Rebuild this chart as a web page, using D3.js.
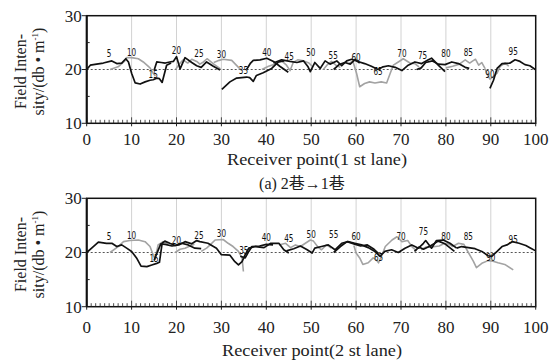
<!DOCTYPE html>
<html><head><meta charset="utf-8">
<script src="https://cdn.jsdelivr.net/npm/d3@7"></script>
<style>
body{margin:0;background:#fff}svg{display:block}
.serif{font-family:"Liberation Serif","DejaVu Serif","Times New Roman",serif}
.cap{font-family:"Liberation Serif","DejaVu Serif","Noto Sans CJK SC",serif}
.narrow{font-family:"Liberation Sans Narrow","Arial Narrow","DejaVu Sans Condensed","Liberation Sans",sans-serif}
</style>
</head><body>
<svg id="c" width="550" height="361"></svg>
<script>
// ---------- data ----------
const xTicks = [0,10,20,30,40,50,60,70,80,90,100];
const yTicks = [10,20,30];
const stationLabels = ["5","10","15","20","25","30","35","40","45","50","55","60","65","70","75","80","85","90","95"];
const lane1LabelPos = [[5,23.0],[10,23.3],[14.8,19.1],[20,23.6],[25,23.0],[30,22.9],[34.9,19.9],[40.1,23.2],[45.1,22.5],[49.9,23.2],[54.9,22.6],[60,22.2],[64.9,19.7],[70.2,23.1],[74.8,22.6],[80,23.1],[85,23.2],[89.8,19.2],[95,23.4]];
const lane2LabelPos = [[5,23.1],[10,23.2],[15,19.0],[20,22.3],[25,23.2],[30,23.5],[35,20.5],[40,22.8],[45,22.7],[50,23.3],[55,23.3],[60,23.1],[65,19.1],[70,23.1],[75,23.9],[80,23.1],[85,23.0],[90,19.1],[95,22.5]];

const lane1Black = [
 [[0,20],[0.8,20.8],[2.2,21.0],[3.7,21.2],[5.6,21.6],[6.7,21.1],[7.8,21.2],[8.7,22.0],[9.3,21.4],[10,19.3],[10.8,17.5],[11.9,17.3],[13,17.7],[14.1,18.0],[14.8,18.1],[15.6,18.4],[16.2,18.3],[16.8,17.6],[17.8,20.8],[18.8,21.2]],
 [[15,19.8],[15.6,21.4],[16.6,21.3],[17.5,21.2],[18.5,21.4],[19.3,21.5],[20,22.4],[20.8,20.1],[21.9,22.2],[23.4,21.3],[24.5,20.7],[25.5,20.4],[26.7,21.4],[28.2,20.6],[29.7,19.9]],
 [[30.1,16.3],[31.9,17.7],[33.4,18.4],[35.6,18.6],[36.3,18.5],[37.1,17.8],[37.8,18.9],[39.3,19.4],[41.2,20.2],[42.7,21.4],[44,21.6]],
 [[35.6,20],[36.5,21.2],[37.1,21.7],[38.6,21.8],[40.1,22.1],[41.6,21.5],[43,20.6],[44.9,19.5]],
 [[41.6,21.2],[43.4,21.8],[45.3,21.5],[46.8,21.3],[48.3,21.6],[49.3,20.5],[49.8,19.6],[50.8,21.3],[52,20.2],[53.1,21.6],[54.2,21],[55.7,21.6],[56.8,20.7],[57.9,21.6],[59,21.9],[60.4,21.5],[61.9,21.1],[63.4,20.6],[64.9,20]],
 [[55,20],[56.2,20.9],[57.5,21.3],[58.7,21.0],[59.8,21.9],[60.8,21.2]],
 [[64.9,20],[66,20.5],[67.2,20.7],[68.7,20.4],[70.2,19.8],[71.6,20.8],[73.1,21.4],[74.6,21.1],[76.1,21.8],[76.8,22.1],[78.3,20.8],[79.8,19.6]],
 [[73.5,20],[74.5,20.3],[75.5,21.3],[77,21.6],[78.3,21.0],[79.8,20.9],[81.3,21.4],[82.8,21.1],[84.3,20.4],[85.2,20.2]],
 [[89.8,16.5],[90.6,18],[91.4,20.2],[92.5,21.1],[94.3,21.2],[95.4,21.8],[96.5,21.5],[97.6,20.9],[98.7,20.7],[99.9,20]]
];
const lane1Gray = [
 [[5.2,20],[7,20.5],[8.5,21.6],[8.9,22.2],[10,22.2],[11.5,22.0],[12.6,21.4],[14.1,20.3],[14.8,19.3],[15.3,18.8]],
 [[19.8,20],[20.6,21],[21.5,21.8],[22.5,21.2],[23.4,21.9],[24.5,21.5],[25.2,21.0],[26,21.4],[26.8,22],[28.3,21],[29.8,20.1]],
 [[28.3,21.3],[29.5,21.7],[30.4,21.9],[32.3,21.7],[33.8,20.4],[34.6,19.8]],
 [[39,20],[40.5,20.6],[42,21],[43.4,21.6],[44.5,20.8],[45.3,19.8],[46,21.3],[47,21.8],[48.3,21.6],[49.5,21.2],[50.2,20.6]],
 [[52.7,20],[53.5,20.8],[54.5,21.5],[55.5,20.8],[56.5,20.4]],
 [[58.5,21.2],[59.3,21.5],[60.1,19.3],[60.8,16.8],[61.9,17.4],[63,17.7],[64.2,17.5],[65.6,17.7],[66.8,17.5],[67.6,19.3],[68.3,20.8],[69.4,21.4],[70.5,22],[72,21.2],[73.1,21.1],[74,20.5]],
 [[80,20.3],[81.5,20.6],[83,21],[84.3,21.8],[85.3,21.2],[86,21.6],[86.6,21.9],[87.3,20.8],[88,21.3],[88.7,20.2]],
 [[88.7,20.2],[89.1,19.3],[89.8,18.2],[90.6,18.7],[91.4,19.3],[92.1,20.6],[93.2,21.2],[94,20.6]]
];
const lane2Black = [
 [[0,20],[1.1,20.8],[2.6,21.9],[4.4,21.7],[5.6,21.7],[6.7,21.1],[7.8,21.4],[8.9,20.8],[10,20.2],[11.1,19],[12.1,17.5],[13.4,17.4],[14.5,17.7],[15.6,18],[16.2,18.2],[16.8,21.7],[17.4,22.1],[18.5,21.7],[19.7,21.3],[21.1,21.7],[22.6,21.4],[24.1,20.8],[25.5,20.7]],
 [[15,18.5],[15.6,19.8],[16.5,21.6],[17.5,21.5],[19,21.2],[20.5,21.4],[21.9,22],[23.4,21.6],[24.5,22.2],[25.2,22],[27,21.7],[28.9,20.8],[30,19.6],[31.9,19.5],[33,18.3],[33.8,17.7],[34.6,18.3],[35.3,19.6],[36.1,20.8],[37.6,21.1],[39.5,20.9],[41,21.7],[42.8,21.7],[43.9,20.5],[45,19.9]],
 [[34.2,19.3],[35.3,19],[36.1,20.2],[36.8,21.1],[38.5,21.2],[40,21.5],[41.5,21.4]],
 [[44.5,20.3],[46.1,20.7],[47.6,21.2],[49.1,20.5],[50.2,19.9],[50.8,20.8],[52.3,21.1],[53.8,21.4],[55.3,20.5],[56.8,21.7],[58.2,22],[59.7,21.7],[61.2,21.4],[62.7,20.9],[64.2,20.2],[65.3,19.3]],
 [[55,20],[56.5,21.1],[58,22],[59.5,21.6],[61,21.2],[62.5,21.4],[64,20.6],[65,19.8]],
 [[65.3,19.3],[66.4,20.2],[67.9,20.5],[69.4,20],[70.9,20.8],[72.4,21.4],[73.9,20.8],[75,21.7],[75.5,22.2],[76.8,20.8],[77.9,22.2],[79.4,22.3],[80.9,21.7],[82.4,20.8]],
 [[73,20.2],[74,21],[75,20.6],[76.5,21.2],[78.3,22.1],[79.8,21.6],[81,20.8],[81.9,20.2]],
 [[82.4,20.8],[83.5,21.1],[85,20.9],[86.5,20.7],[88,20.2],[89.4,19.4],[90.2,19.3],[91.4,20.2],[92.5,21.1],[93.6,21.4],[94.8,22],[96.3,21.7],[97.8,21.3],[98.9,20.8],[100,20.3]]
];
const lane2Gray = [
 [[5.2,20],[7,21.1],[8.2,22],[9.6,22.2],[11.5,22.3],[13,22],[14.1,21.1],[14.8,19.6],[15.2,18.7],[15.9,21.4],[17,22],[18.2,21.6]],
 [[19.7,20],[20.8,20.6],[21.9,20.8],[23,21.2],[24,21.5]],
 [[25.5,20.2],[26.7,20.8],[27.5,21.4],[28.6,22.3],[30.4,22.4],[31.5,21.7],[32.6,21.1],[33.8,20.2],[34.6,19],[34.9,16.5]],
 [[42.8,21.4],[44.3,21.7],[45.4,20.9],[46.5,21.4],[47.6,21.1],[48.7,21.7],[49.8,22.3],[50.5,22.1],[51.5,21],[52.3,20.5],[53.4,21.4],[54.5,20.8]],
 [[59.5,21.3],[60,19.9],[60.8,19],[61.5,17.8],[62.7,18.1],[63.8,19],[64.5,18.6],[65,18.1],[65.8,19.6],[66.5,21.1],[68,22.3],[69.1,22.9],[70.2,22],[71.5,22.2],[72.5,21],[73.5,20.3]],
 [[74.5,20.5],[75.5,21],[76.8,21],[78.5,21.2],[79.5,21.6],[80.5,21.6],[81.5,21.1],[82.8,21.7],[84,21.5],[85,20],[86.1,18.4],[86.8,17.2],[88,18],[89.4,18.5],[90.5,18.4],[91.6,18.1],[93.1,17.8],[95,16.8]]
];

// ---------- drawing ----------
const svg = d3.select("#c");
const L = 86.7, R = 535.7;

function panel(top, bottom, black, gray, labelPos, xTitle, tickBase, titleBase, titleX) {
  const x = d3.scaleLinear().domain([0,100]).range([L,R]);
  const y = d3.scaleLinear().domain([10,30]).range([bottom,top]);
  const g = svg.append("g");
  g.selectAll(".grid").data(xTicks.slice(1,-1)).join("line")
    .attr("x1",d=>x(d)).attr("x2",d=>x(d)).attr("y1",top).attr("y2",bottom)
    .attr("stroke","#d2d2d2").attr("stroke-width",1);
  g.append("line").attr("x1",L).attr("x2",R).attr("y1",y(20)).attr("y2",y(20))
    .attr("stroke","#555").attr("stroke-width",1).attr("stroke-dasharray","2,2");
  const line = d3.line().x(d=>x(d[0])).y(d=>y(d[1]));
  g.selectAll(".g").data(gray).join("path").attr("d",line).attr("fill","none")
    .attr("stroke","#a3a3a3").attr("stroke-width",1.6).attr("stroke-linejoin","round");
  g.selectAll(".b").data(black).join("path").attr("d",line).attr("fill","none")
    .attr("stroke","#111").attr("stroke-width",1.7).attr("stroke-linejoin","round");
  g.selectAll(".lab").data(labelPos).join("text").attr("class","narrow")
    .attr("x",d=>x(d[0])).attr("y",d=>y(d[1])).attr("text-anchor","middle")
    .attr("dy","0.35em").attr("font-size",9.5).attr("fill","#111")
    .attr("transform",d=>`translate(${x(d[0])},${y(d[1])}) scale(0.85,1.15) translate(${-x(d[0])},${-y(d[1])})`)
    .text((d,i)=>stationLabels[i]);
  g.append("rect").attr("x",L).attr("y",top).attr("width",R-L).attr("height",bottom-top)
    .attr("fill","none").attr("stroke","#111").attr("stroke-width",1.5);
  const minor = d3.range(0,101,1);
  g.selectAll(".mt").data(minor).join("line")
    .attr("x1",d=>x(d)).attr("x2",d=>x(d)).attr("y1",bottom)
    .attr("y2",d=>bottom-(d%10===0?6:3.5)).attr("stroke","#222").attr("stroke-width",0.8);
  g.selectAll(".Mt").data(xTicks).join("line")
    .attr("x1",d=>x(d)).attr("x2",d=>x(d)).attr("y1",bottom).attr("y2",bottom+3)
    .attr("stroke","#222").attr("stroke-width",1);
  g.selectAll(".xl").data(xTicks).join("text").attr("class","serif")
    .attr("x",d=>x(d)).attr("y",tickBase).attr("text-anchor","middle")
    .attr("font-size",17).attr("fill","#222").text(d=>d);
  g.append("line").attr("x1",L).attr("x2",L).attr("y1",top).attr("y2",bottom)
    .attr("stroke","#111").attr("stroke-width",2);
  g.selectAll(".yt").data(yTicks).join("line")
    .attr("x1",L-5).attr("x2",L).attr("y1",d=>y(d)).attr("y2",d=>y(d))
    .attr("stroke","#222").attr("stroke-width",1);
  g.selectAll(".ymt").data([15,25]).join("line")
    .attr("x1",L).attr("x2",L+3).attr("y1",d=>y(d)).attr("y2",d=>y(d))
    .attr("stroke","#222").attr("stroke-width",1);
  g.selectAll(".yl").data(yTicks).join("text").attr("class","serif")
    .attr("x",L-5).attr("y",d=>y(d)).attr("dy","0.35em").attr("text-anchor","end")
    .attr("font-size",17).attr("fill","#222").text(d=>d);
  g.append("text").attr("class","serif").attr("x",titleX).attr("y",titleBase).attr("text-anchor","middle")
    .attr("font-size",17).attr("fill","#222")
    .attr("textLength",180).attr("lengthAdjust","spacingAndGlyphs").text(xTitle);
  const cy = (top+bottom)/2 + 2;
  g.append("text").attr("class","serif").attr("transform",`translate(26,${cy}) rotate(-90)`)
    .attr("text-anchor","middle").attr("font-size",16).attr("fill","#222")
    .text("Field Inten-");
  const t2 = g.append("text").attr("class","serif").attr("transform",`translate(44,${cy}) rotate(-90)`)
    .attr("text-anchor","middle").attr("font-size",16).attr("fill","#222");
  t2.append("tspan").text("sity/(db • m");
  t2.append("tspan").attr("font-size",9).attr("dy",-6).text("-1");
  t2.append("tspan").attr("dy",6).text(")");
}

panel(15.7, 123.3, lane1Black, lane1Gray, lane1LabelPos, "Receiver point(1 st lane)", 145, 165, 317);
panel(198.3, 306.7, lane2Black, lane2Gray, lane2LabelPos, "Receiver point(2 st lane)", 333, 356, 312);

svg.append("text").attr("class","cap").attr("x",302).attr("y",189).attr("text-anchor","middle")
  .attr("font-size",16).attr("fill","#222")
  .text("(a) 2巷→1巷");
</script>
</body></html>
